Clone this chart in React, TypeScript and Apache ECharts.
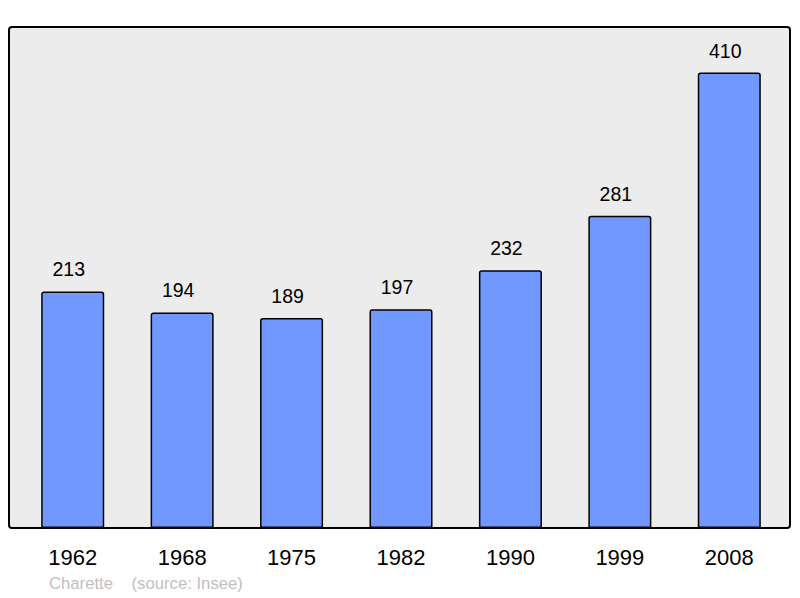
import React, { useEffect, useRef } from "react";
import * as echarts from "echarts";

const years = ["1962", "1968", "1975", "1982", "1990", "1999", "2008"];
const population = [213, 194, 189, 197, 232, 281, 410];
const footer = "Charette    (source: Insee)";

export default function App() {
  const ref = useRef<HTMLDivElement>(null);
  useEffect(() => {
    const chart = echarts.init(ref.current!, null, { renderer: "svg" });
    chart.setOption({
      animation: false,
      backgroundColor: "#ffffff",
      textStyle: { fontFamily: "Liberation Sans, Arial, sans-serif" },
      graphic: [
        {
          type: "rect",
          z: -10,
          shape: { x: 9, y: 27, width: 781, height: 501, r: 3 },
          style: { fill: "#ececec", stroke: "#000", lineWidth: 2 },
        },
        {
          type: "text",
          left: 49,
          top: 575,
          style: {
            text: footer,
            fill: "#c0c0c0",
            fontSize: 16.7,
            fontFamily: "Liberation Sans, Arial, sans-serif",
          },
        },
      ],
      grid: { left: 18, top: 27, width: 766, height: 501, containLabel: false },
      xAxis: {
        type: "category",
        data: years,
        axisLine: { show: false },
        axisTick: { show: false },
        axisLabel: { color: "#000", fontSize: 22, margin: 18 },
      },
      yAxis: {
        type: "value",
        min: 0,
        max: 451,
        show: false,
        splitLine: { show: false },
      },
      series: [
        {
          type: "bar",
          data: population,
          barWidth: "57.6%",
          itemStyle: {
            color: "#7098ff",
            borderColor: "#000",
            borderWidth: 1.5,
            borderRadius: [2, 2, 0, 0],
          },
          label: {
            show: true,
            position: "top",
            distance: 12,
            offset: [-4, 0],
            color: "#000",
            fontSize: 19.5,
          },
        },
      ],
    });
    return () => chart.dispose();
  }, []);
  return (
    <div
      ref={ref}
      style={{ position: "fixed", left: 0, top: 0, width: 800, height: 598 }}
    />
  );
}
